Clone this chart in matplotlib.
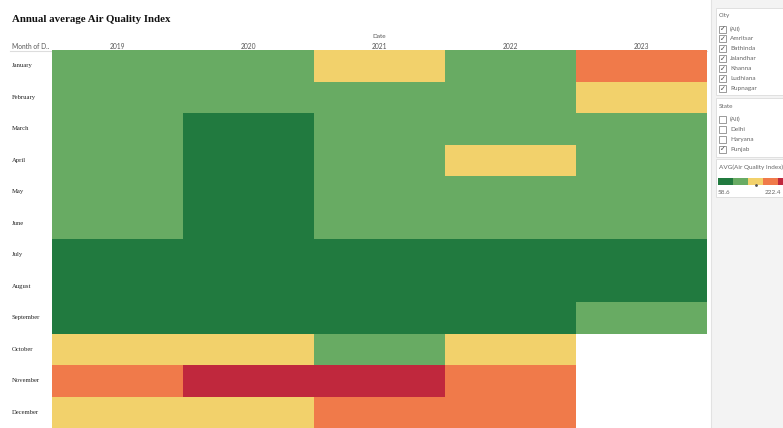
import numpy as np
import matplotlib
matplotlib.use("Agg")
import matplotlib.pyplot as plt
from matplotlib.colors import ListedColormap, BoundaryNorm
from matplotlib.patches import Rectangle

# ---- data ----
years = ["2019", "2020", "2021", "2022", "2023"]
months = ["January", "February", "March", "April", "May", "June", "July",
          "August", "September", "October", "November", "December"]

aqi_2019 = [110, 102, 98, 112, 118, 105, 68, 62, 75, 148, 176, 140]
aqi_2020 = [116, 108, 78, 72, 85, 88, 60, 58.6, 70, 152, 205, 142]
aqi_2021 = [135, 118, 110, 114, 96, 99, 66, 61, 64, 105, 222.4, 172]
aqi_2022 = [121, 112, 119, 128, 122, 100, 64, 63, 71, 144, 180, 165]
aqi_2023 = [170, 138, 104, 96, 101, 94, 72, 67, 93, np.nan, np.nan, np.nan]

cities = ["(All)", "Amritsar", "Bathinda", "Jalandhar", "Khanna", "Ludhiana", "Rupnagar"]
city_checked = [True] * 7
states = ["(All)", "Delhi", "Haryana", "Punjab"]
state_checked = [False, False, False, True]

aqi_min, aqi_max = 58.6, 222.4
palette = ["#217a3f", "#68ab63", "#f2d16b", "#f07a4a", "#c0283d"]

W, H = 783, 428
fig = plt.figure(figsize=(W / 100, H / 100), dpi=100)
fig.patch.set_facecolor("white")


def fx(px):
    return px / W


def fy(py):
    return 1 - py / H


# overlay in pixel coordinates for the dashboard chrome
over = fig.add_axes([0, 0, 1, 1], zorder=0)
over.set_xlim(0, W)
over.set_ylim(H, 0)
over.axis("off")

# ---- heatmap ----
grid = np.array([aqi_2019, aqi_2020, aqi_2021, aqi_2022, aqi_2023], dtype=float).T
cmap = ListedColormap(palette)
cmap.set_bad("white")
bounds = np.linspace(aqi_min, aqi_max, len(palette) + 1)
norm = BoundaryNorm(bounds, cmap.N, clip=True)

hx0, hx1, hy0, hy1 = 52, 707, 50, 428
ax = fig.add_axes([fx(hx0), fy(hy1), fx(hx1 - hx0), (hy1 - hy0) / H], zorder=1)
ax.pcolormesh(np.arange(len(years) + 1), np.arange(len(months) + 1),
              np.ma.masked_invalid(grid), cmap=cmap, norm=norm)
ax.set_xlim(0, len(years))
ax.set_ylim(len(months), 0)
ax.axis("off")

# title
over.text(12, 19, "Annual average Air Quality Index", fontsize=7.8,
          fontweight="bold", family="Liberation Serif", color="#111111",
          va="center", ha="left")

# column headers
over.text((hx0 + hx1) / 2, 36, "Date", fontsize=4.6, family="Lato",
          color="#555555", ha="center", va="center")
colw = (hx1 - hx0) / len(years)
for i, y in enumerate(years):
    over.text(hx0 + colw * (i + 0.5), 46, y, fontsize=4.8, family="Lato",
              color="#555555", ha="center", va="center")
over.text(12, 46, "Month of D..", fontsize=4.8, family="Lato",
          color="#555555", ha="left", va="center")
over.plot([10, hx1], [50.5, 50.5], color="#dddddd", lw=0.8)

# row labels
rowh = (hy1 - hy0) / len(months)
for j, m in enumerate(months):
    over.text(12, hy0 + rowh * (j + 0.5), m, fontsize=4.8,
              family="Liberation Serif", color="#222222", ha="left", va="center")

# ---- side panel ----
over.add_patch(Rectangle((711, 0), W - 711, H, facecolor="#f3f3f3",
                         edgecolor="none", zorder=0))
over.plot([711, 711], [0, H], color="#e2e2e2", lw=0.8)
for (top, bot) in [(8, 95), (98, 157), (159, 197)]:
    over.add_patch(Rectangle((715.5, top), W - 715, bot - top, facecolor="white",
                             edgecolor="#e0e0e0", lw=0.7, zorder=1))


def checklist(title, ty, items, checked, y0, step=9.9):
    over.text(719, ty, title, fontsize=4.6, family="Lato", color="#666666",
              ha="left", va="center", zorder=3)
    for k, (name, c) in enumerate(zip(items, checked)):
        yy = y0 + k * step
        over.add_patch(Rectangle((719, yy - 3.5), 7, 7, facecolor="white",
                                 edgecolor="#8a8a8a", lw=0.6, zorder=3))
        if c:
            over.text(722.5, yy + 0.3, "\u2713", fontsize=5, family="DejaVu Sans",
                      color="#444444", ha="center", va="center", zorder=4)
        over.text(730, yy, name, fontsize=4.6, family="Lato", color="#666666",
                  ha="left", va="center", zorder=3)


checklist("City", 15, cities, city_checked, 29)
checklist("State", 106, states, state_checked, 119.5)

# colour legend
over.text(719, 167, "AVG(Air Quality Index)", fontsize=4.6, family="Lato",
          color="#666666", ha="left", va="center", zorder=3)
seg = 15
for k, c in enumerate(palette):
    over.add_patch(Rectangle((718 + k * seg, 178), seg, 6.5, facecolor=c,
                             edgecolor="none", zorder=3))
over.plot([718 + 2.5 * seg], [185], marker="o", ms=1, color="#555555", zorder=4)
over.text(718, 192, f"{aqi_min:.1f}", fontsize=4.6, family="Lato",
          color="#666666", ha="left", va="center", zorder=3)
over.text(781, 192, f"{aqi_max:.1f}", fontsize=4.6, family="Lato",
          color="#666666", ha="right", va="center", zorder=3)

fig.savefig("out.png", dpi=100)
